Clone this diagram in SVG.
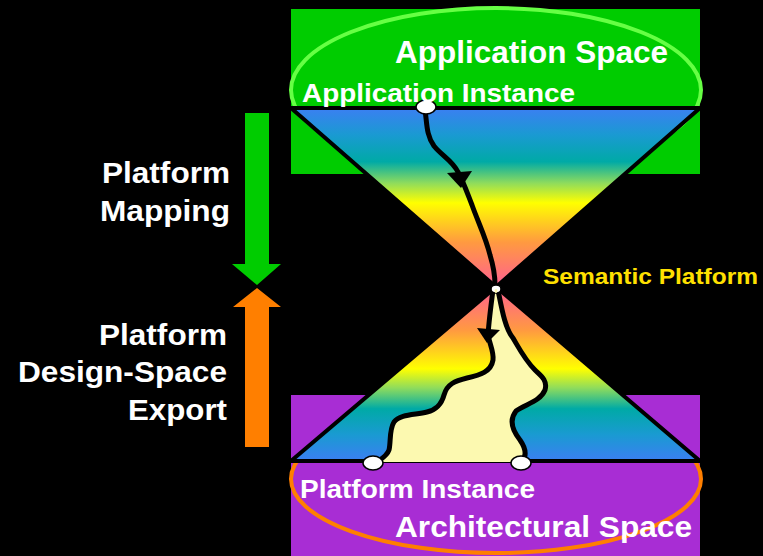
<svg xmlns="http://www.w3.org/2000/svg" width="763" height="556" viewBox="0 0 763 556">
<defs>
<linearGradient id="gTop" x1="0" y1="0" x2="0" y2="1">
<stop offset="0" stop-color="#3b7ff2"/>
<stop offset="0.15" stop-color="#1a9ad2"/>
<stop offset="0.3" stop-color="#00aaa6"/>
<stop offset="0.42" stop-color="#8fdc5c"/>
<stop offset="0.53" stop-color="#ffff00"/>
<stop offset="0.75" stop-color="#ff9a40"/>
<stop offset="1" stop-color="#ff5f92"/>
</linearGradient>
<linearGradient id="gBot" x1="0" y1="1" x2="0" y2="0">
<stop offset="0" stop-color="#3b7ff2"/>
<stop offset="0.15" stop-color="#1a9ad2"/>
<stop offset="0.3" stop-color="#00aaa6"/>
<stop offset="0.42" stop-color="#8fdc5c"/>
<stop offset="0.53" stop-color="#ffff00"/>
<stop offset="0.75" stop-color="#ff9a40"/>
<stop offset="1" stop-color="#ff5f92"/>
</linearGradient>
<marker id="ah" viewBox="0 0 10 10" refX="5" refY="5" markerWidth="5" markerHeight="5" orient="auto"><path d="M0,0 L10,5 L0,10 z" fill="#000"/></marker>
</defs>
<style>
text{font-family:"Liberation Sans",Arial,sans-serif;font-weight:bold;}
.w{fill:#fff;}
.lbl{fill:#fff;font-size:30px;text-anchor:end;}
.edge{fill:none;stroke:#000;stroke-width:5;stroke-linecap:round;stroke-linejoin:round;}
.node{fill:#fff;stroke:#000;stroke-width:1.5;}
.tri{stroke:#000;stroke-width:4;stroke-linejoin:miter;}
</style>
<rect width="763" height="556" fill="#000"/>

<g id="application-space">
<rect x="291" y="9" width="409" height="165" fill="#00cc00"/>
<ellipse cx="496" cy="90" rx="205" ry="82" fill="none" stroke="#66ff44" stroke-width="4"/>
<text class="w" x="395" y="63" font-size="31" textLength="273" lengthAdjust="spacingAndGlyphs">Application Space</text>
</g>

<g id="architectural-space">
<rect x="291" y="395" width="409" height="161" fill="#a82dd4"/>
<ellipse cx="496" cy="479" rx="205" ry="74" fill="none" stroke="#ff7f00" stroke-width="4"/>
</g>

<g id="top-cone">
<polygon class="tri" points="291,108 700,108 496,287" fill="url(#gTop)"/>
</g>
<g id="bottom-cone">
<polygon class="tri" points="291,461 700,461 496,287" fill="url(#gBot)"/>
<path d="M493,290 C491,305 489,320 488,335 C490,345 494,352 493,360 C491,372 480,375 467,378 C455,381 447,384 444,395 C441,406 435,410 427,412 C415,415 400,414 394,422 C389,430 391,442 389,450 C387,456 381,459 377,462 L522,462 C526,457 527,450 520,440 C512,430 509,420 516,411 C525,404 540,402 545,390 C548,380 540,375 535,370 C525,360 520,350 513,338 C505,328 502,310 498,290 Z" fill="#fcf9b0"/>
</g>

<g id="connectors">
<path class="edge" d="M425,110 C427,122 426,135 434,146 C442,156 452,160 458,172 C464,183 468,195 472,205 C478,222 486,238 490,255 C494,268 495,278 495,285"/>
<polygon points="447,173 472,171 461,188" fill="#000"/>
<path class="edge" d="M493,290 C491,305 489,320 488,335 C490,345 494,352 493,360 C491,372 480,375 467,378 C455,381 447,384 444,395 C441,406 435,410 427,412 C415,415 400,414 394,422 C389,430 391,442 389,450 C387,456 381,459 377,462"/>
<polygon points="477,328 500,330 487,343" fill="#000"/>
<path class="edge" d="M498,290 C502,310 505,328 513,338 C520,350 525,360 535,370 C540,375 548,380 545,390 C540,402 525,404 516,411 C509,420 512,430 520,440 C527,450 526,457 522,462"/>
</g>

<g id="application-instance">
<ellipse class="node" cx="426" cy="107" rx="10" ry="7"/>
<text class="w" x="302" y="102" font-size="26" textLength="273" lengthAdjust="spacingAndGlyphs">Application Instance</text>
</g>

<g id="semantic-platform">
<ellipse cx="496" cy="289" rx="5" ry="4" fill="#fff" stroke="#000" stroke-width="1.5"/>
<ellipse cx="496" cy="291" rx="1.5" ry="2" fill="#fcf9b0"/>
<text x="543" y="284" font-size="22" fill="#ffe000" textLength="215" lengthAdjust="spacingAndGlyphs">Semantic Platform</text>
</g>

<g id="platform-instance">
<ellipse class="node" cx="373" cy="463" rx="10" ry="7"/>
<ellipse class="node" cx="521" cy="463" rx="10" ry="7"/>
<text class="w" x="300" y="498" font-size="26" textLength="235" lengthAdjust="spacingAndGlyphs">Platform Instance</text>
<text class="w" x="395" y="537" font-size="29" textLength="297" lengthAdjust="spacingAndGlyphs">Architectural Space</text>
</g>

<g id="platform-mapping">
<polygon points="245,113 269,113 269,264 281,264 257,285 232,264 245,264" fill="#00cc00"/>
<text class="lbl" x="230" y="183" textLength="128" lengthAdjust="spacingAndGlyphs">Platform</text>
<text class="lbl" x="230" y="221" textLength="130" lengthAdjust="spacingAndGlyphs">Mapping</text>
</g>

<g id="platform-export">
<polygon points="257,288 281,307 269,307 269,447 245,447 245,307 233,307" fill="#ff7f00"/>
<text class="lbl" x="227" y="345" textLength="128" lengthAdjust="spacingAndGlyphs">Platform</text>
<text class="lbl" x="227" y="382" textLength="209" lengthAdjust="spacingAndGlyphs">Design-Space</text>
<text class="lbl" x="227" y="420" textLength="99" lengthAdjust="spacingAndGlyphs">Export</text>
</g>
</svg>
